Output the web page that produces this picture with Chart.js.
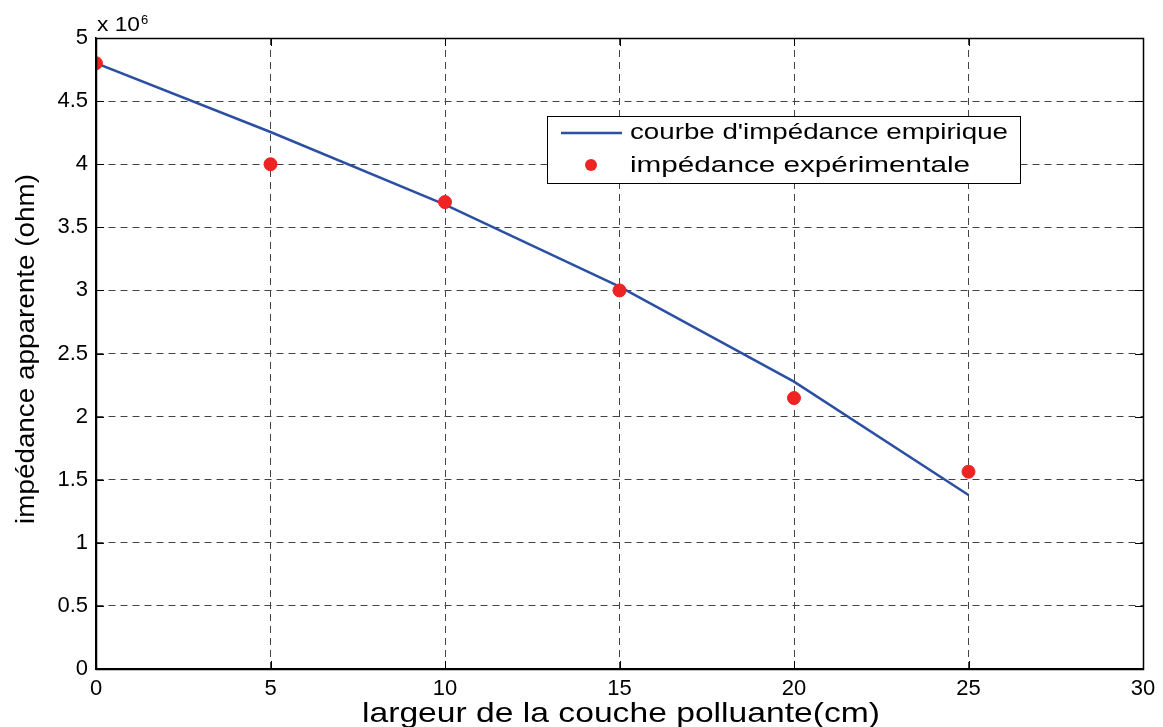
<!DOCTYPE html>
<html>
<head>
<meta charset="utf-8">
<script src="https://cdn.jsdelivr.net/npm/chart.js@4"></script>
<style>
html,body{margin:0;padding:0;background:#fff;}
#wrap{width:1163px;height:727px;}
</style>
</head>
<body>
<div id="wrap"><canvas id="c" width="1163" height="727"></canvas></div>
<script>
const xValues = [0, 5, 10, 15, 20, 25];
const empiricalValues = [4.8, 4.255, 3.68, 3.03, 2.277, 1.379];
const experimentalValues = [4.8, 4.0, 3.7, 3.0, 2.147, 1.563];
const xTicks = [0, 5, 10, 15, 20, 25, 30];
const yTicks = [0, 0.5, 1, 1.5, 2, 2.5, 3, 3.5, 4, 4.5, 5];
const seriesNames = ["courbe d'impédance empirique", "impédance expérimentale"];
const xTitle = "largeur de la couche polluante(cm)";
const yTitle = "impédance apparente (ohm)";
const exponentBase = "x 10";
const exponentSup = "6";

const FONT = "'Liberation Sans', Arial, sans-serif";
const lineColor = '#2b4fa3';
const markColor = '#ee2424';

const empirical = xValues.map((x, i) => ({x, y: empiricalValues[i]}));
const experimental = xValues.map((x, i) => ({x, y: experimentalValues[i]}));

function fitText(ctx, text, x, y, width) {
  const w = ctx.measureText(text).width;
  ctx.save();
  ctx.translate(x, y);
  ctx.scale(width / w, 1);
  ctx.fillText(text, 0, 0);
  ctx.restore();
}

const decorPlugin = {
  id: 'decor',
  beforeDatasetsDraw(chart) {
    const {ctx, chartArea: a, scales: {x, y}} = chart;
    ctx.save();
    ctx.strokeStyle = '#000';
    ctx.lineWidth = 1;
    const tl = 8;
    xTicks.forEach(v => {
      const px = Math.round(x.getPixelForValue(v)) + 0.5;
      ctx.beginPath();
      ctx.moveTo(px, a.bottom); ctx.lineTo(px, a.bottom - tl);
      ctx.moveTo(px, a.top); ctx.lineTo(px, a.top + tl);
      ctx.stroke();
    });
    yTicks.forEach(v => {
      const py = Math.round(y.getPixelForValue(v)) + 0.5;
      ctx.beginPath();
      ctx.moveTo(a.left, py); ctx.lineTo(a.left + tl, py);
      ctx.moveTo(a.right, py); ctx.lineTo(a.right - tl, py);
      ctx.stroke();
    });
    ctx.restore();
  },
  afterDraw(chart) {
    const {ctx, chartArea: a} = chart;
    ctx.save();
    ctx.strokeStyle = '#000';
    ctx.lineWidth = 1.5;
    ctx.strokeRect(Math.round(a.left) + 0.5, Math.round(a.top) + 0.5,
                   Math.round(a.right - a.left), Math.round(a.bottom - a.top));
    ctx.fillStyle = '#000';
    ctx.textAlign = 'left';
    ctx.textBaseline = 'alphabetic';
    // exponent label
    ctx.font = '21px ' + FONT;
    fitText(ctx, exponentBase, 97, 31, 43);
    ctx.font = '13px ' + FONT;
    ctx.fillText(exponentSup, 141, 24);
    // x title, widened
    ctx.font = '28px ' + FONT;
    fitText(ctx, xTitle, 362, 722, 518);
    // y title, condensed
    ctx.font = '26px ' + FONT;
    const tw = ctx.measureText(yTitle).width;
    ctx.translate(34, 349);
    ctx.rotate(-Math.PI / 2);
    ctx.scale(350 / tw, 1);
    ctx.textAlign = 'center';
    ctx.fillText(yTitle, 0, 0);
    ctx.restore();

    // legend
    ctx.save();
    const lx = 547, ly = 116, lw = 473, lh = 67;
    ctx.fillStyle = '#fff';
    ctx.fillRect(lx, ly, lw, lh);
    ctx.strokeStyle = '#000';
    ctx.lineWidth = 1;
    ctx.strokeRect(lx + 0.5, ly + 0.5, lw, lh);
    ctx.strokeStyle = lineColor;
    ctx.lineWidth = 2.5;
    ctx.beginPath();
    ctx.moveTo(561, 133); ctx.lineTo(622, 133);
    ctx.stroke();
    ctx.fillStyle = markColor;
    ctx.beginPath();
    ctx.arc(591, 165, 6, 0, Math.PI * 2);
    ctx.fill();
    ctx.fillStyle = '#000';
    ctx.font = '22px ' + FONT;
    ctx.textAlign = 'left';
    ctx.textBaseline = 'middle';
    fitText(ctx, seriesNames[0], 630, 133, 378);
    fitText(ctx, seriesNames[1], 630, 166, 340);
    ctx.restore();
  }
};

new Chart(document.getElementById('c'), {
  type: 'scatter',
  data: {
    datasets: [
      {
        label: seriesNames[0],
        data: empirical,
        showLine: true,
        borderColor: lineColor,
        backgroundColor: lineColor,
        borderWidth: 2.5,
        pointRadius: 0,
        tension: 0,
        order: 2
      },
      {
        label: seriesNames[1],
        data: experimental,
        showLine: false,
        pointStyle: 'circle',
        pointRadius: 6.5,
        pointBackgroundColor: markColor,
        pointBorderColor: markColor,
        pointBorderWidth: 1,
        order: 1
      }
    ]
  },
  options: {
    responsive: false,
    animation: false,
    layout: {padding: {left: 0, right: 20, top: 38, bottom: 0}},
    plugins: {
      legend: {display: false},
      tooltip: {enabled: false}
    },
    scales: {
      x: {
        type: 'linear',
        min: 0, max: 30,
        afterBuildTicks: s => { s.ticks = xTicks.map(v => ({value: v})); },
        afterFit: s => { s.height = 58; },
        ticks: {
          color: '#000',
          font: {family: FONT, size: 22},
          padding: 7,
          maxRotation: 0,
          callback: v => String(v)
        },
        grid: {color: '#444', lineWidth: 1, drawTicks: false},
        border: {display: true, color: '#000', width: 1.5, dash: [7, 5]}
      },
      y: {
        type: 'linear',
        min: 0, max: 5,
        afterBuildTicks: s => { s.ticks = yTicks.map(v => ({value: v})); },
        afterFit: s => { s.width = 96; },
        ticks: {
          color: '#000',
          font: {family: FONT, size: 22},
          padding: 8,
          callback: v => String(v)
        },
        grid: {color: '#444', lineWidth: 1, drawTicks: false},
        border: {display: true, color: '#000', width: 1.5, dash: [7, 5]}
      }
    }
  },
  plugins: [decorPlugin]
});
</script>
</body>
</html>
